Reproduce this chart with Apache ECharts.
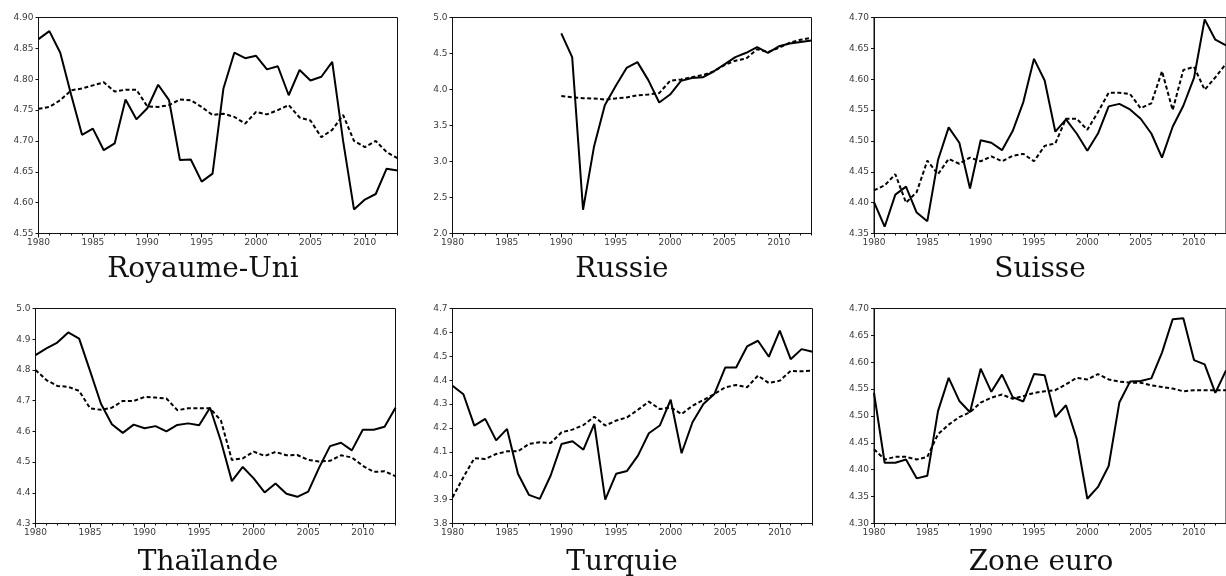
<!DOCTYPE html>
<html>
<head>
<meta charset="utf-8">
<script src="https://cdn.jsdelivr.net/npm/echarts@6/dist/echarts.min.js"></script>
<style>
  html, body { margin: 0; padding: 0; background: #fff; overflow: hidden; }
  #main { width: 1226px; height: 576px; }
</style>
</head>
<body>
<div id="main"></div>
<script>
// années 1980 - 2013
const years = [];
for (let y = 1980; y <= 2013; y++) years.push(String(y));

const titles = ['Royaume-Uni', 'Russie', 'Suisse', 'Thaïlande', 'Turquie', 'Zone euro'];

// série observée (trait plein)
const ukSolid = [4.865, 4.878, 4.843, 4.775, 4.710, 4.720, 4.685, 4.696, 4.767, 4.735, 4.753, 4.791, 4.766, 4.669, 4.670, 4.634, 4.647, 4.785, 4.843, 4.834, 4.838, 4.816, 4.821, 4.774, 4.815, 4.798, 4.804, 4.828, 4.700, 4.589, 4.605, 4.614, 4.655, 4.652];
const ruSolid = [null, null, null, null, null, null, null, null, null, null, 4.78, 4.45, 2.33, 3.20, 3.78, 4.05, 4.30, 4.38, 4.13, 3.82, 3.93, 4.12, 4.16, 4.17, 4.25, 4.35, 4.45, 4.51, 4.59, 4.51, 4.60, 4.64, 4.66, 4.68];
const chSolid = [4.401, 4.361, 4.413, 4.426, 4.384, 4.370, 4.469, 4.522, 4.497, 4.423, 4.501, 4.497, 4.485, 4.516, 4.563, 4.633, 4.598, 4.515, 4.535, 4.512, 4.484, 4.512, 4.556, 4.560, 4.551, 4.536, 4.512, 4.473, 4.523, 4.557, 4.602, 4.697, 4.664, 4.655];
const thSolid = [4.848, 4.870, 4.889, 4.922, 4.902, 4.797, 4.690, 4.623, 4.595, 4.622, 4.610, 4.617, 4.600, 4.621, 4.626, 4.620, 4.677, 4.568, 4.438, 4.484, 4.447, 4.401, 4.430, 4.397, 4.387, 4.404, 4.482, 4.552, 4.563, 4.538, 4.605, 4.605, 4.615, 4.677];
const trSolid = [4.377, 4.341, 4.210, 4.238, 4.148, 4.196, 4.008, 3.920, 3.903, 4.001, 4.133, 4.144, 4.109, 4.217, 3.900, 4.008, 4.020, 4.084, 4.178, 4.210, 4.318, 4.094, 4.224, 4.300, 4.342, 4.453, 4.453, 4.541, 4.565, 4.498, 4.607, 4.488, 4.530, 4.519];
const euSolid = [4.543, 4.413, 4.413, 4.419, 4.384, 4.389, 4.509, 4.571, 4.528, 4.507, 4.588, 4.545, 4.577, 4.535, 4.527, 4.578, 4.576, 4.498, 4.520, 4.458, 4.346, 4.368, 4.407, 4.525, 4.564, 4.565, 4.570, 4.618, 4.680, 4.682, 4.604, 4.596, 4.543, 4.585];

// série ajustée (pointillés)
const ukDash = [4.752, 4.755, 4.766, 4.782, 4.785, 4.790, 4.795, 4.780, 4.783, 4.783, 4.756, 4.755, 4.758, 4.767, 4.766, 4.755, 4.742, 4.744, 4.739, 4.728, 4.747, 4.743, 4.750, 4.758, 4.738, 4.733, 4.706, 4.718, 4.742, 4.700, 4.690, 4.700, 4.682, 4.672];
const ruDash = [null, null, null, null, null, null, null, null, null, null, 3.91, 3.89, 3.88, 3.875, 3.86, 3.875, 3.89, 3.92, 3.93, 3.95, 4.12, 4.14, 4.17, 4.20, 4.25, 4.34, 4.40, 4.43, 4.56, 4.52, 4.58, 4.65, 4.69, 4.72];
const chDash = [4.420, 4.428, 4.446, 4.400, 4.417, 4.468, 4.446, 4.471, 4.463, 4.473, 4.467, 4.475, 4.467, 4.476, 4.479, 4.467, 4.492, 4.496, 4.536, 4.536, 4.518, 4.547, 4.578, 4.578, 4.576, 4.553, 4.561, 4.613, 4.550, 4.615, 4.620, 4.583, 4.603, 4.625];
const thDash = [4.800, 4.767, 4.748, 4.745, 4.732, 4.675, 4.670, 4.677, 4.699, 4.699, 4.712, 4.710, 4.707, 4.669, 4.675, 4.675, 4.675, 4.635, 4.507, 4.512, 4.534, 4.520, 4.533, 4.522, 4.523, 4.507, 4.502, 4.504, 4.522, 4.515, 4.488, 4.468, 4.470, 4.454];
const trDash = [3.909, 3.994, 4.073, 4.070, 4.091, 4.102, 4.102, 4.133, 4.140, 4.137, 4.182, 4.193, 4.212, 4.247, 4.210, 4.231, 4.244, 4.276, 4.310, 4.279, 4.286, 4.258, 4.293, 4.317, 4.342, 4.370, 4.380, 4.370, 4.419, 4.388, 4.398, 4.439, 4.437, 4.440];
const euDash = [4.438, 4.419, 4.424, 4.424, 4.419, 4.424, 4.466, 4.484, 4.498, 4.507, 4.525, 4.534, 4.540, 4.532, 4.537, 4.543, 4.546, 4.548, 4.559, 4.571, 4.568, 4.578, 4.568, 4.564, 4.562, 4.562, 4.557, 4.554, 4.551, 4.546, 4.548, 4.548, 4.548, 4.548];

// bornes des axes y
const yMin = [4.55, 2.0, 4.35, 4.3, 3.8, 4.30];
const yMax = [4.90, 5.0, 4.70, 5.0, 4.7, 4.70];
const yStep = [0.05, 0.5, 0.05, 0.1, 0.1, 0.05];
const yDec = [2, 1, 2, 1, 1, 2];

const solids = [ukSolid, ruSolid, chSolid, thSolid, trSolid, euSolid];
const dashes = [ukDash, ruDash, chDash, thDash, trDash, euDash];

// position des cadres (gauche, droite, haut, bas) en px
const boxes = [
  [38.5, 397.5, 17.5, 233.5],
  [452.5, 811.5, 17.5, 233.5],
  [874, 1232, 17.5, 233.5],
  [35.5, 395.5, 308.5, 523.5],
  [452.5, 812.5, 308.5, 523.5],
  [874, 1232, 308.5, 523.5]
];
const titleX = [203, 622, 1040, 208, 622, 1041];
const titleY = [270, 270, 270, 563, 563, 563];

const W = 1226, H = 576;
const labelFont = { fontFamily: 'DejaVu Sans', fontSize: 9, color: '#3a3a3a' };

const grid = [], xAxis = [], yAxis = [], series = [], graphic = [];

boxes.forEach((b, i) => {
  grid.push({
    left: b[0], width: b[1] - b[0], top: b[2], height: b[3] - b[2],
    show: true, borderColor: '#111', borderWidth: 1, backgroundColor: 'transparent'
  });
  // axe principal : petites graduations chaque année
  xAxis.push({
    type: 'category', gridIndex: i, position: 'bottom', data: years, boundaryGap: false,
    axisLine: { lineStyle: { color: '#111', width: 1 } },
    axisTick: { interval: 0, length: 2, lineStyle: { color: '#111' } },
    axisLabel: Object.assign({ interval: 4, margin: 5 }, labelFont),
    splitLine: { show: false }
  });
  // graduations longues tous les 5 ans
  xAxis.push({
    type: 'category', gridIndex: i, position: 'bottom', data: years, boundaryGap: false,
    axisLine: { show: false },
    axisTick: { interval: 4, length: 4, lineStyle: { color: '#111' } },
    axisLabel: { show: false },
    splitLine: { show: false }
  });
  yAxis.push({
    type: 'value', gridIndex: i, position: 'left', min: yMin[i], max: yMax[i], interval: yStep[i],
    axisLine: { show: true, lineStyle: { color: '#111', width: 1 } },
    axisTick: { show: true, length: 3, lineStyle: { color: '#111' } },
    axisLabel: Object.assign({ margin: 5, formatter: v => v.toFixed(yDec[i]) }, labelFont),
    splitLine: { show: false }
  });
  series.push({
    type: 'line', xAxisIndex: 2 * i, yAxisIndex: i, data: solids[i],
    symbol: 'none', connectNulls: false, animation: false,
    lineStyle: { color: '#000', width: 2 }
  });
  series.push({
    type: 'line', xAxisIndex: 2 * i, yAxisIndex: i, data: dashes[i],
    symbol: 'none', connectNulls: false, animation: false,
    lineStyle: { color: '#000', width: 2, type: [4, 2.5] }
  });
  graphic.push({
    type: 'text', x: titleX[i], y: titleY[i], silent: true,
    style: {
      text: titles[i], font: '28px "DejaVu Serif"', fill: '#111',
      align: 'center', verticalAlign: 'middle',
      textAlign: 'center', textVerticalAlign: 'middle'
    }
  });
});

const chart = echarts.init(document.getElementById('main'), null, { renderer: 'canvas', width: W, height: H });
chart.setOption({
  animation: false,
  backgroundColor: '#fff',
  grid: grid,
  xAxis: xAxis,
  yAxis: yAxis,
  series: series,
  graphic: graphic
});
</script>
</body>
</html>
